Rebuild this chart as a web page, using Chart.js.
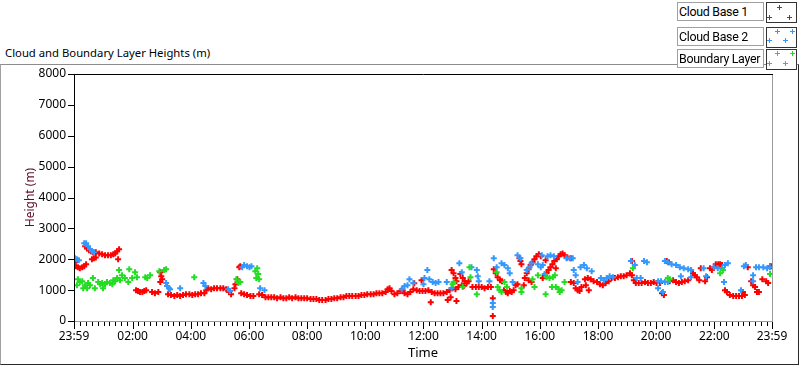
<!DOCTYPE html>
<html lang="en">
<head>
<meta charset="UTF-8">
<title>Cloud and Boundary Layer Heights</title>
<script src="https://cdn.jsdelivr.net/npm/chart.js"></script>
<style>
    body { margin: 0; background: #fff; font-family: "Noto Sans", sans-serif; }
    #janela { position: relative; width: 800px; height: 365px; overflow: hidden; }
    #grafico { position: absolute; left: 0; top: 0; }
    .titulo { position: absolute; left: 5px; top: 45px; font-size: 11.3px; line-height: 16px; color: #000; white-space: nowrap; }
    .moldura { position: absolute; left: 0; top: 64px; width: 797px; height: 299px;
        border-top: 1px solid #8c8c8c; border-left: 1px solid #a0a0a0;
        border-right: 1px solid #2a2a2a; border-bottom: 1px solid #2a2a2a; }
    .leg-nome { position: absolute; left: 677px; width: 84px; height: 17px; border: 1px solid #a0a0a0;
        background: #fff; font-family: Roboto, sans-serif; font-size: 12.4px; letter-spacing: -0.3px;
        line-height: 17px; padding-left: 1px; white-space: nowrap; overflow: hidden; }
    .leg-simb { position: absolute; left: 766px; width: 29px; height: 19px; border: 1px solid #333; background: #fff; }
    .cruz { position: absolute; width: 5px; height: 5px; }
    .cruz span { position: absolute; background: currentColor; }
</style>
</head>
<body>
<div id="janela">
    <div class="moldura"></div>
    <div class="titulo">Cloud and Boundary Layer Heights (m)</div>
    <canvas id="grafico" width="800" height="365"></canvas>

    <div class="leg-nome" style="top:2px">Cloud Base 1</div>
    <div class="leg-simb" style="top:2px"></div>
    <div class="leg-nome" style="top:27px">Cloud Base 2</div>
    <div class="leg-simb" style="top:27px"></div>
    <div class="leg-nome" style="top:49px">Boundary Layer</div>
    <div class="leg-simb" style="top:49px"></div>
</div>

<script>
    // tempos em minutos desde 00:00 (-1 = 23:59 do dia anterior), alturas em metros
    const cloudBase1 = [
        [-1,2030],[1,1900],[3,1770],[7,1740],[11,1710],[16,1740],[20,1770],[24,1840],[36,2000],[40,2030],[44,2060],
        [22,2420],[26,2350],[30,2290],[34,2260],[38,2230],[44,2230],[51,2190],[57,2160],[63,2130],[69,2130],[75,2130],
        [80,2160],[84,2190],[88,2260],[92,2320],[90,2000],
        [127,1000],[131,970],[135,940],[140,940],[144,970],[148,1000],[160,940],[166,900],[173,940],
        [177,1580],[179,1450],[181,1350],[177,1260],[191,1130],
        [193,870],[199,840],[206,810],[212,840],[218,810],[224,840],[230,870],[237,870],[243,840],[249,870],[255,870],
        [261,900],[268,900],[272,1000],[276,1060],[282,1030],[288,1060],[294,1060],[301,1060],[307,1060],[313,1030],
        [319,940],[323,870],[330,1060],[332,1190],[336,1350],[340,1740],[342,1770],
        [344,900],[350,870],[356,840],[363,810],[369,810],[381,870],[387,840],[394,770],[400,770],[406,770],[412,770],
        [418,740],[425,770],[431,740],[437,740],[443,770],[449,740],[456,770],[462,740],[468,740],[474,740],[480,740],
        [487,710],[493,710],[499,710],[505,680],[511,680],[518,680],[524,710],[530,710],[536,740],[542,740],[549,770],
        [555,770],[561,810],[567,810],[573,810],[580,810],[586,810],[592,840],[598,840],[604,870],[611,870],[617,870],
        [623,900],[629,900],[635,900],[642,940],[646,1030],[650,1060],[654,970],[660,870],[666,900],[673,970],[677,1000],
        [681,900],[687,870],[693,940],[699,1030],[701,1220],[706,1000],[712,970],[716,1320],[718,970],[724,970],[730,1000],
        [735,610],[737,940],[743,900],[749,900],[755,900],[761,900],[768,940],
        [770,680],[774,1000],[776,770],[778,1650],[780,1060],[782,1550],[786,1030],[786,1390],[788,1290],[788,650],
        [792,1100],[796,1520],[799,1160],[801,1390],[803,1130],[805,1290],[809,1220],[813,1290],[821,1100],[828,1100],
        [834,1100],[840,1100],[846,1060],[853,1100],[859,1100],
        [863,740],[863,160],[865,1680],[869,1550],[873,1420],[878,1320],[882,1290],[886,1000],[890,940],[894,900],
        [898,970],[902,940],[906,1000],[910,1160],[914,1190],[918,2030],[920,1940],[922,1840],[927,1160],[929,1390],
        [933,1550],[937,1680],[937,1320],[941,1810],[943,1260],[945,1900],[949,2000],[953,2100],[958,2160],[962,2100],
        [966,1390],[970,1450],[974,1550],[978,1650],[982,1740],[986,1840],[990,1940],[995,2000],[999,2100],[1003,2160],
        [1007,2190],[1011,2130],[1017,2060],[1024,2030],[972,1970],[993,1710],
        [1024,1260],[1030,1230],[1034,1060],[1038,1000],[1042,970],[1046,1100],[1053,1350],[1055,1160],[1059,1390],
        [1061,1000],[1065,1350],[1071,1290],[1078,1260],[1084,1190],[1090,1160],[1096,1230],[1102,1290],[1108,1390],
        [1115,1390],[1121,1420],[1127,1450],[1133,1450],[1139,1480],[1146,1550],[1150,1940],[1150,1480],[1154,1320],
        [1158,1230],[1164,1230],[1170,1230],[1177,1260],[1183,1230],[1189,1230],[1195,1260],[1201,1230],[1208,1230],
        [1212,900],[1216,840],[1222,1940],[1226,1900],[1228,1290],[1235,1320],[1241,1260],[1247,1230],[1253,1260],
        [1259,1290],[1266,1320],[1272,1650],[1276,1550],[1280,1480],[1284,1420],[1289,1320],[1292,1710],[1301,1290],
        [1305,1420],[1311,1710],[1315,1650],[1319,1740],[1323,1840],[1328,1840],[1332,1840],[1336,1810],
        [1342,1000],[1346,940],[1352,840],[1359,810],[1365,810],[1371,810],[1377,810],[1383,840],[1379,940],[1389,1740],
        [1396,1290],[1400,1160],[1404,1100],[1408,940],[1412,940],[1419,1350],[1427,1290],[1431,1230],[1435,1770],[1439,1770]
    ];

    const cloudBase2 = [
        [1,2030],[5,2000],[9,1970],[20,2520],[24,2520],[28,2420],[32,2320],[36,2260],[40,2230],
        [189,1230],[191,1130],[195,1060],[197,1030],[218,1060],[266,1230],[270,1130],[317,1030],[321,970],
        [346,1740],[350,1810],[356,1770],[361,1740],[365,1770],[383,1060],[392,1000],
        [675,1030],[681,1130],[687,1160],[691,1350],[699,1230],[720,1190],[722,1390],[728,1650],[732,1350],
        [739,1260],[745,1230],[751,1260],[768,1260],[778,1060],[794,1870],[799,1580],[819,1740],[830,1650],
        [832,1450],[834,1290],[856,1290],[863,580],[863,450],[865,2030],[871,1740],[881,1870],[887,1810],
        [894,1710],[898,1550],[904,1260],[914,2130],[920,2030],[933,1650],[939,1740],[943,1870],[956,1840],
        [962,1740],[964,2130],[966,1810],[970,1520],[976,2100],[982,2130],[989,2100],[1015,2030],[1022,2030],
        [1028,2030],[1030,1650],[1034,1480],[1038,1260],[1044,1740],[1051,1810],[1057,1710],[1067,1610],
        [1086,1390],[1092,1320],[1098,1390],[1104,1450],[1111,1420],[1148,1940],[1156,1810],[1160,1390],
        [1168,1390],[1175,1940],[1181,1900],[1204,1290],[1204,1060],[1210,1290],[1214,940],[1218,1260],
        [1224,1260],[1218,1940],[1224,1900],[1232,1840],[1241,1810],[1249,1740],[1257,1710],[1266,1680],
        [1272,1650],[1251,1450],[1272,1420],[1298,1710],[1303,1450],[1319,1740],[1327,1710],[1336,1710],
        [1342,1810],[1348,1870],[1340,1260],[1375,1000],[1381,1770],[1385,1810],[1400,1480],[1400,1290],
        [1406,1740],[1412,1740],[1421,1740],[1429,1710],[1435,1740]
    ];

    const boundaryLayer = [
        [5,1160],[7,1350],[11,1260],[16,1290],[18,1060],[22,1160],[26,1060],[28,1230],[32,1160],[38,1390],
        [42,1060],[49,1260],[53,1190],[57,1230],[59,1060],[63,1190],[67,1260],[73,1230],[78,1190],[80,1320],
        [84,1290],[88,1390],[92,1650],[94,1320],[98,1480],[104,1390],[111,1260],[113,1680],[119,1390],[125,1580],
        [129,1420],[146,1420],[150,1390],[156,1480],[175,1610],[185,1650],[189,1680],[247,1420],
        [334,1350],[338,1230],[342,1260],[373,1610],[377,1710],[379,1520],[375,1390],[381,1350],
        [780,1190],[782,1260],[801,1100],[815,1740],[817,1420],[830,870],[871,1580],[873,1100],[877,1000],
        [881,940],[887,1260],[892,1100],[922,940],[922,1060],[945,1350],[949,1100],[956,1480],[972,870],
        [974,1420],[980,1390],[987,1420],[991,1480],[985,1100],[993,1100],[999,1030],[1001,940],[1005,1000],
        [1011,1260],[1152,1710],[1224,1390],[1228,1350],[1332,1550],[1338,1650],[1435,1520]
    ];

    const xTickMinutes = [-1, 120, 240, 360, 480, 600, 720, 840, 960, 1080, 1200, 1320, 1439];
    const xTickLabels = ['23:59', '02:00', '04:00', '06:00', '08:00', '10:00', '12:00', '14:00', '16:00', '18:00', '20:00', '22:00', '23:59'];
    const yTicks = [0, 1000, 2000, 3000, 4000, 5000, 6000, 7000, 8000];
    const minorTickStep = 12;

    const corCB1 = '#ff0000';
    const corCB2 = '#3399ff';
    const corBL = '#22dd22';
    const fonte = '"Noto Sans", sans-serif';

    function paraXY(lista) {
        return lista.map(p => ({ x: p[0], y: p[1] }));
    }

    // eixos, marcas e moldura da area do grafico
    const eixosPlugin = {
        id: 'eixos',
        afterDraw(chart) {
            const c = chart.ctx;
            const a = chart.chartArea;
            const sx = chart.scales.x;
            const sy = chart.scales.y;
            c.save();
            c.lineWidth = 1;

            // bordas cinza (direita e embaixo)
            c.strokeStyle = '#9a9a9a';
            c.beginPath();
            c.moveTo(a.right + 0.5, a.top);
            c.lineTo(a.right + 0.5, a.bottom + 1);
            c.moveTo(a.left, a.bottom + 0.5);
            c.lineTo(a.right + 1, a.bottom + 0.5);
            c.stroke();

            // eixo y e topo em preto
            c.strokeStyle = '#000';
            c.beginPath();
            c.moveTo(a.left + 0.5, a.top);
            c.lineTo(a.left + 0.5, a.bottom + 1);
            c.moveTo(a.left, a.top + 0.5);
            c.lineTo(a.right + 1, a.top + 0.5);
            c.stroke();

            // marcas do eixo y
            c.beginPath();
            yTicks.forEach(v => {
                const py = Math.round(sy.getPixelForValue(v)) + 0.5;
                c.moveTo(a.left - 6, py);
                c.lineTo(a.left, py);
            });
            c.stroke();

            // marcas do eixo x (menores a cada 12 min, maiores nos rotulos)
            c.beginPath();
            for (let m = 0; m < 1439; m += minorTickStep) {
                const px = Math.round(sx.getPixelForValue(m)) + 0.5;
                c.moveTo(px, a.bottom + 1);
                c.lineTo(px, a.bottom + 5);
            }
            xTickMinutes.forEach(v => {
                const px = Math.round(sx.getPixelForValue(v)) + 0.5;
                c.moveTo(px, a.bottom + 1);
                c.lineTo(px, a.bottom + 8);
            });
            c.stroke();
            c.restore();
        }
    };

    new Chart(document.getElementById('grafico'), {
        type: 'scatter',
        data: {
            datasets: [
                { label: 'Cloud Base 1', data: paraXY(cloudBase1), borderColor: corCB1, backgroundColor: corCB1, order: 3 },
                { label: 'Cloud Base 2', data: paraXY(cloudBase2), borderColor: corCB2, backgroundColor: corCB2, order: 2 },
                { label: 'Boundary Layer', data: paraXY(boundaryLayer), borderColor: corBL, backgroundColor: corBL, order: 1 }
            ]
        },
        options: {
            responsive: false,
            animation: false,
            events: [],
            layout: { padding: { top: 74, right: 28, left: 0, bottom: 0 } },
            elements: { point: { pointStyle: 'cross', radius: 3, borderWidth: 2, hoverRadius: 3 } },
            plugins: { legend: { display: false }, tooltip: { enabled: false } },
            scales: {
                x: {
                    type: 'linear', min: -1, max: 1439, position: 'bottom',
                    afterBuildTicks: s => { s.ticks = xTickMinutes.map(v => ({ value: v })); },
                    afterFit: s => { s.height = 44; },
                    grid: { display: false, drawTicks: false },
                    border: { display: false },
                    ticks: {
                        autoSkip: false, maxRotation: 0, padding: 8, color: '#000',
                        font: { family: fonte, size: 12 },
                        callback: (v, i) => xTickLabels[i]
                    },
                    title: { display: true, text: 'Time', color: '#000', font: { family: fonte, size: 13 }, padding: { top: 0, bottom: 4 } }
                },
                y: {
                    min: 0, max: 8000,
                    afterBuildTicks: s => { s.ticks = yTicks.map(v => ({ value: v })); },
                    afterFit: s => { s.width = 74; },
                    grid: { display: false, drawTicks: false },
                    border: { display: false },
                    ticks: { padding: 8, color: '#000', font: { family: fonte, size: 12 }, callback: v => String(v) },
                    title: { display: true, text: 'Height (m)', color: '#5c0f28', font: { family: fonte, size: 12 }, padding: { top: 23, bottom: 0 } }
                }
            }
        },
        plugins: [eixosPlugin]
    });

    // cruzinhas da legenda
    const cruzesLegenda = [
        [779, 7, corCB1], [769, 17, corCB1], [789, 17, corCB1],
        [777, 31, corCB2], [792, 31, corCB2], [769, 40, corCB2], [785, 40, corCB2],
        [777, 53, corBL], [792, 53, corBL], [769, 63, corBL], [785, 63, corBL]
    ];
    const janela = document.getElementById('janela');
    cruzesLegenda.forEach(p => {
        const d = document.createElement('div');
        d.className = 'cruz';
        d.style.left = (p[0] - 2) + 'px';
        d.style.top = (p[1] - 2) + 'px';
        d.style.color = p[2];
        d.innerHTML = '<span style="left:0;top:2px;width:5px;height:1px"></span><span style="left:2px;top:0;width:1px;height:5px"></span>';
        janela.appendChild(d);
    });
</script>
</body>
</html>
